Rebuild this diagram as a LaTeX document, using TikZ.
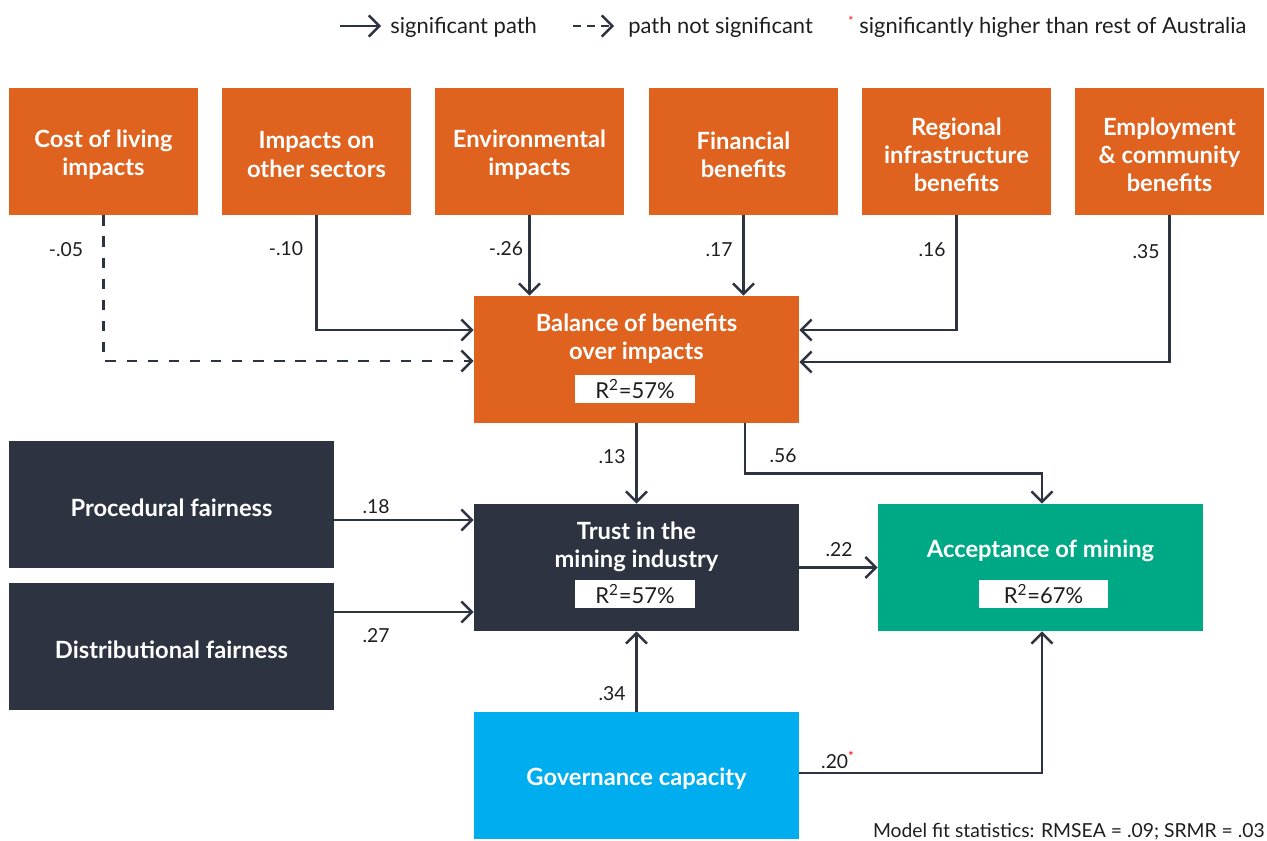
\documentclass[tikz,border=0pt]{standalone}
\usepackage{fontspec}
\setmainfont{Lato}
\usetikzlibrary{arrows.meta}
\definecolor{rust}{HTML}{E0621F}
\definecolor{slate}{HTML}{2D3341}
\definecolor{jade}{HTML}{00A985}
\definecolor{sky}{HTML}{00AEEF}
\definecolor{ink}{HTML}{1E1E1E}
\begin{document}
\begin{tikzpicture}[
  x=0.02cm, y=-0.02cm,
  box/.style={minimum height=2.54cm, inner sep=0pt},
  topbox/.style={box, fill=rust, minimum width=3.78cm},
  widebox/.style={box, minimum width=6.5cm},
  title/.style={inner sep=0pt, text=white, align=center,
                font=\fontsize{13.5}{16}\selectfont\bfseries},
  rsq/.style={fill=white, minimum width=2.4cm, minimum height=0.56cm,
              inner sep=0pt, text=ink, font=\fontsize{12.5}{14}\selectfont},
  coef/.style={text=ink, inner sep=0pt, font=\fontsize{11}{12}\selectfont},
  legend/.style={text=ink, inner sep=0pt, anchor=west, font=\fontsize{12.5}{14}\selectfont},
  sig/.style={draw=slate, line width=1.4pt, -{Straight Barb[length=6pt,width=12pt]}},
  nsig/.style={sig, dash pattern=on 6pt off 6pt}
]
\useasboundingbox (0,0) rectangle (1267,841);

% legend
\coordinate (k1) at (340,26);
\coordinate (k2) at (381,26);
\coordinate (k3) at (573,26);
\coordinate (k4) at (614,26);
\draw[sig] (k1) -- (k2);
\draw[nsig, dash pattern=on 4.5pt off 3.5pt] (k3) -- (k4);
\node[legend] (t1) at (390,27) {significant path};
\node[legend] (t2) at (628,27) {path not significant};
\node[legend, text=red, font=\fontsize{7}{8}\selectfont] (t3) at (848,21) {*};
\node[legend] (t4) at (859,27) {significantly higher than rest of Australia};

% top row
\node[topbox] (cost) at (103.5,151.5) {};
\node[topbox] (other) at (316.5,151.5) {};
\node[topbox] (env) at (529.5,151.5) {};
\node[topbox] (fin) at (743.5,151.5) {};
\node[topbox] (reg) at (956.5,151.5) {};
\node[topbox] (emp) at (1169.5,151.5) {};
\node[title] (costt) at (103.5,154.5) {Cost of living\\impacts};
\node[title] (othert) at (316.5,154.5) {Impacts on\\other sectors};
\node[title] (envt) at (529.5,154.5) {Environmental\\impacts};
\node[title] (fint) at (743.5,154.5) {Financial\\benefits};
\node[title] (regt) at (956.5,154.5) {Regional\\infrastructure\\benefits};
\node[title] (empt) at (1169.5,154.5) {Employment\\\& community\\benefits};

% middle
\node[widebox, fill=rust] (bal) at (636.5,359.5) {};
\node[title] (balt) at (636.5,339) {Balance of benefits\\over impacts};
\node[rsq] (balr) at (635,389) {R\textsuperscript{2}=57\%};

\node[widebox, fill=slate] (proc) at (171.5,504.5) {};
\node[title] (proct) at (171.5,507.5) {Procedural fairness};
\node[widebox, fill=slate] (dist) at (171.5,646.5) {};
\node[title] (distt) at (171.5,649.5) {Distributional fairness};

\node[widebox, fill=slate] (trust) at (636.5,567.5) {};
\node[title] (trustt) at (636.5,547) {Trust in the\\mining industry};
\node[rsq] (trustr) at (635,594) {R\textsuperscript{2}=57\%};

\node[widebox, fill=jade] (acc) at (1040.5,567.5) {};
\node[title] (acct) at (1040.5,551) {Acceptance of mining};
\node[rsq, minimum width=2.58cm] (accr) at (1043.5,594) {R\textsuperscript{2}=67\%};

\node[widebox, fill=sky] (gov) at (636.5,775.5) {};
\node[title] (govt) at (636.5,778.5) {Governance capacity};

% paths into balance
\draw[nsig] (cost.south) |- ([yshift=-0.03cm]bal.west);
\draw[sig] (other.south) |- ([yshift=0.59cm]bal.west);
\draw[sig] (env.south) -- (env.south |- bal.north);
\draw[sig] (fin.south) -- (fin.south |- bal.north);
\draw[sig] (reg.south) |- ([yshift=0.59cm]bal.east);
\draw[sig] (emp.south) |- ([yshift=-0.05cm]bal.east);

% paths into trust and acceptance
\coordinate (tp) at ([yshift=0.95cm]trust.west);
\coordinate (td) at ([yshift=-0.89cm]trust.west);
\draw[sig] (bal.south) -- (trust.north);
\draw[sig] ([xshift=2.17cm]bal.south) -- ++(0,50) -| ([xshift=0.03cm]acc.north);
\draw[sig] (proc.east |- tp) -- (tp);
\draw[sig] (dist.east |- td) -- (td);
\draw[sig] (trust.east) -- (acc.west);
\draw[sig] (gov.north) -- (trust.south);
\draw[sig] ([yshift=0.05cm]gov.east) -| ([xshift=0.03cm]acc.south);

% coefficients
\node[coef] (c1) at (66,250) {-.05};
\node[coef] (c2) at (286,249) {-.10};
\node[coef] (c3) at (506,249) {-.26};
\node[coef] (c4) at (719,250) {.17};
\node[coef] (c5) at (932,250) {.16};
\node[coef] (c6) at (1146,252) {.35};
\node[coef] (c7) at (612,457) {.13};
\node[coef] (c8) at (783,456) {.56};
\node[coef] (c9) at (376,507) {.18};
\node[coef] (c10) at (376,636) {.27};
\node[coef] (c11) at (839,550) {.22};
\node[coef] (c12) at (612,694) {.34};
\node[coef] (c13) at (838,760) {.20\textsuperscript{\color{red}*}};

\node[legend, anchor=east, font=\fontsize{11}{13}\selectfont] (fit) at (1265,832) {Model fit statistics: RMSEA = .09; SRMR = .03};
\end{tikzpicture}
\end{document}
